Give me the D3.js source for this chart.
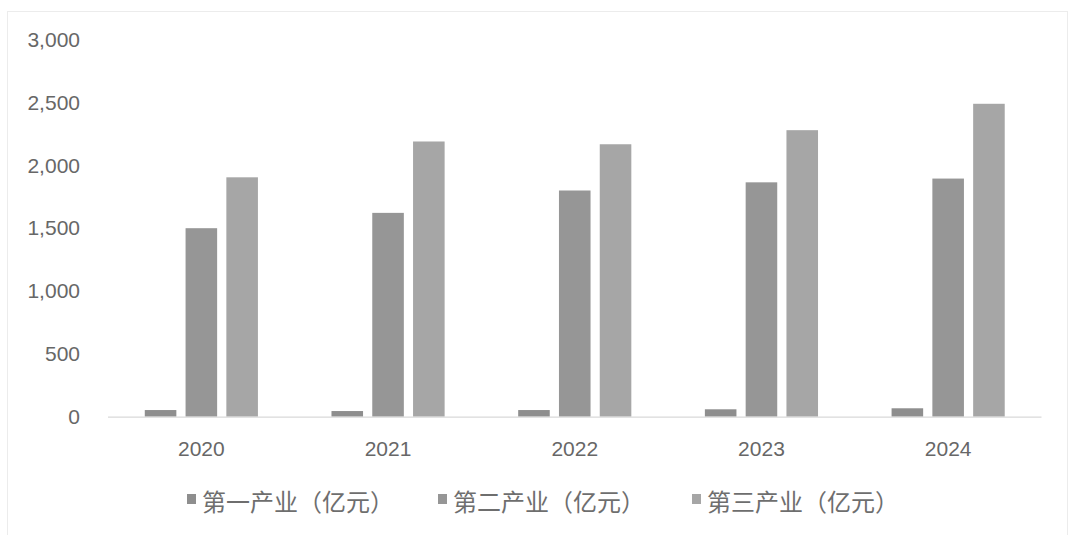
<!DOCTYPE html>
<html>
<head>
<meta charset="utf-8">
<script src="https://cdn.jsdelivr.net/npm/d3@7"></script>
<style>
  html, body { margin: 0; padding: 0; background: #fff; }
  svg { display: block; }
</style>
</head>
<body>
<svg id="chart" width="1072" height="535"></svg>
<script>
const years = ["2020", "2021", "2022", "2023", "2024"];
const seriesNames = ["第一产业（亿元）", "第二产业（亿元）", "第三产业（亿元）"];
const primary   = [53, 45, 53, 59, 67];
const secondary = [1500, 1622, 1800, 1865, 1895];
const tertiary  = [1905, 2190, 2168, 2280, 2490];
const yTicks = [0, 500, 1000, 1500, 2000, 2500, 3000];
const colors = ["#8e8e8e", "#969696", "#a6a6a6"];

const seriesValues = [primary, secondary, tertiary];
const svg = d3.select("#chart");

// faint frame
svg.append("rect")
  .attr("x", 7.5).attr("y", 11.5).attr("width", 1060).attr("height", 530)
  .attr("fill", "none").attr("stroke", "#ececec").attr("stroke-width", 1);

const x0 = d3.scaleBand().domain(years).range([108, 1041.5])
  .paddingInner(0.394).paddingOuter(0.197);
const x1 = d3.scaleBand().domain(d3.range(3)).range([0, x0.bandwidth()])
  .paddingInner(0.226).paddingOuter(0);
const y = d3.scaleLinear().domain([0, 3000]).range([416.7, 39.7]);

// y axis labels
const yAxis = d3.axisLeft(y).tickValues(yTicks).tickFormat(d3.format(",")).tickSize(0).tickPadding(0);
const gy = svg.append("g").attr("transform", "translate(80,0)").call(yAxis);
gy.select(".domain").remove();
gy.selectAll("text")
  .attr("fill", "#676767")
  .style("font-family", "'Liberation Sans', Arial, sans-serif")
  .style("font-size", "21px");

// bars
const groups = svg.append("g").selectAll("g")
  .data(years).join("g")
  .attr("transform", d => `translate(${x0(d)},0)`);
groups.selectAll("rect")
  .data((d, i) => seriesValues.map((arr, s) => ({ s, v: arr[i] })))
  .join("rect")
  .attr("x", d => x1(d.s))
  .attr("width", x1.bandwidth())
  .attr("y", d => y(d.v))
  .attr("height", d => y(0) - y(d.v))
  .attr("fill", d => colors[d.s]);

// x axis
const xAxis = d3.axisBottom(x0).tickSize(0).tickPadding(0);
const gx = svg.append("g").attr("transform", `translate(0,${y(0)})`).call(xAxis);
gx.select(".domain").attr("stroke", "#d9d9d9").attr("stroke-width", 1.2)
  .attr("d", `M108,0.5H1041.5`);
gx.selectAll("text")
  .attr("y", 32)
  .attr("dy", "0.35em")
  .attr("fill", "#676767")
  .style("font-family", "'Liberation Sans', Arial, sans-serif")
  .style("font-size", "21px");

// legend
const legendX = [187, 438, 692];
const legend = svg.append("g").selectAll("g")
  .data(seriesNames).join("g")
  .attr("transform", (d, i) => `translate(${legendX[i]},0)`);
legend.append("rect")
  .attr("x", 0).attr("y", 494).attr("width", 9).attr("height", 10)
  .attr("fill", (d, i) => colors[i]);
legend.append("text")
  .attr("x", 15).attr("y", 500)
  .attr("dominant-baseline", "central")
  .attr("fill", "#6e6e6e")
  .style("font-family", "'Noto Sans CJK SC', sans-serif")
  .style("font-size", "24px")
  .text(d => d);
</script>
</body>
</html>
